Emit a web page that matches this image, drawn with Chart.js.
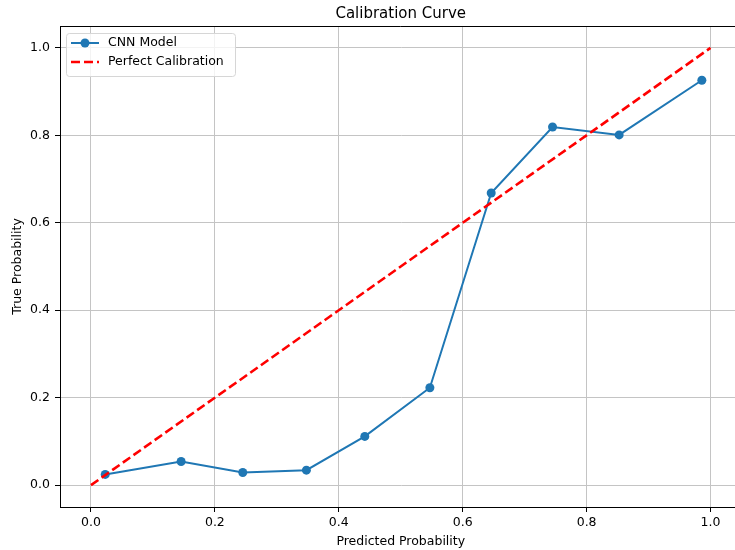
<!DOCTYPE html>
<html>
<head>
<meta charset="utf-8">
<script src="https://cdn.jsdelivr.net/npm/chart.js@4.4.0/dist/chart.umd.min.js"></script>
<style>
  html, body { margin: 0; padding: 0; background: #fff; overflow: hidden; }
  #myChart { position: absolute; left: 0; top: 0; }
</style>
</head>
<body>
<canvas id="myChart" width="746" height="550"></canvas>
<script>
// values
let predProb = [0.023, 0.1455, 0.245, 0.3477, 0.442, 0.547, 0.646, 0.745, 0.8525, 0.986];
let trueProb = [0.0245, 0.054, 0.029, 0.0343, 0.1115, 0.2228, 0.668, 0.819, 0.801, 0.926];
let perfectX = [0, 1];
let perfectY = [0, 1];
let tickValues = [0.0, 0.2, 0.4, 0.6, 0.8, 1.0];

let font = "'DejaVu Sans', sans-serif";
let blue = '#1f77b4';
let red = '#ff0000';

let cnnPoints = predProb.map((x, i) => ({ x: x, y: trueProb[i] }));
let perfectPoints = perfectX.map((x, i) => ({ x: x, y: perfectY[i] }));

function setTicks(axis) {
    axis.ticks = tickValues.map(v => ({ value: v }));
}

// title, top spine and legend box drawn on top of the chart
const extras = {
    id: 'extras',
    afterDraw(chart) {
        const ctx = chart.ctx;
        const a = chart.chartArea;
        ctx.save();
        // top spine
        ctx.strokeStyle = '#000';
        ctx.lineWidth = 1;
        ctx.beginPath();
        ctx.moveTo(a.left, a.top + 0.5);
        ctx.lineTo(a.right, a.top + 0.5);
        ctx.stroke();

        // title
        ctx.fillStyle = '#000';
        ctx.font = '15px ' + font;
        ctx.textAlign = 'center';
        ctx.textBaseline = 'alphabetic';
        ctx.fillText('Calibration Curve', (a.left + a.right) / 2, 18);

        // legend
        let lx = a.left + 6, ly = a.top + 7, lw = 169, lh = 43;
        ctx.fillStyle = 'rgba(255,255,255,0.8)';
        ctx.strokeStyle = '#d6d6d6';
        ctx.lineWidth = 1;
        ctx.beginPath();
        ctx.roundRect(lx + 0.5, ly + 0.5, lw, lh, 3);
        ctx.fill();
        ctx.stroke();

        let r1 = ly + 10, r2 = ly + 29;
        ctx.strokeStyle = blue;
        ctx.lineWidth = 2;
        ctx.beginPath();
        ctx.moveTo(lx + 5, r1);
        ctx.lineTo(lx + 33, r1);
        ctx.stroke();
        ctx.fillStyle = blue;
        ctx.beginPath();
        ctx.arc(lx + 19, r1, 4.5, 0, Math.PI * 2);
        ctx.fill();

        ctx.strokeStyle = red;
        ctx.lineWidth = 2.6;
        ctx.setLineDash([9, 4]);
        ctx.beginPath();
        ctx.moveTo(lx + 5, r2);
        ctx.lineTo(lx + 33, r2);
        ctx.stroke();
        ctx.setLineDash([]);

        ctx.fillStyle = '#000';
        ctx.font = '12.5px ' + font;
        ctx.textAlign = 'left';
        ctx.textBaseline = 'middle';
        ctx.fillText('CNN Model', lx + 42, r1);
        ctx.fillText('Perfect Calibration', lx + 42, r2);
        ctx.restore();
    }
};

let ctx = document.getElementById('myChart').getContext('2d');
new Chart(ctx, {
    type: 'scatter',
    data: {
        datasets: [{
            label: 'CNN Model',
            data: cnnPoints,
            showLine: true,
            borderColor: blue,
            backgroundColor: blue,
            borderWidth: 2,
            pointRadius: 4.5,
            pointBorderWidth: 0,
            pointHoverRadius: 4.5,
            order: 1
        },
        {
            label: 'Perfect Calibration',
            data: perfectPoints,
            showLine: true,
            borderColor: red,
            borderWidth: 2.6,
            borderDash: [9, 4],
            pointRadius: 0,
            order: 0
        }]
    },
    options: {
        responsive: false,
        animation: false,
        devicePixelRatio: 1,
        layout: { padding: { top: 26, right: 1, left: 0, bottom: 0 } },
        plugins: {
            legend: { display: false },
            tooltip: { enabled: false }
        },
        scales: {
            x: {
                type: 'linear',
                min: -0.05,
                max: 1.05,
                afterBuildTicks: setTicks,
                afterFit: (s) => { s.height = 43; },
                grid: { color: '#c4c4c4', lineWidth: 1, tickColor: '#000', tickLength: 5 },
                border: { color: '#000', width: 1 },
                ticks: {
                    color: '#000',
                    padding: 3,
                    font: { family: font, size: 12.5 },
                    maxRotation: 0,
                    callback: (v) => v.toFixed(1)
                },
                title: {
                    display: true,
                    text: 'Predicted Probability',
                    color: '#000',
                    font: { family: font, size: 12.5 },
                    padding: { top: 0, bottom: 1 }
                }
            },
            y: {
                type: 'linear',
                min: -0.05,
                max: 1.05,
                afterBuildTicks: setTicks,
                afterFit: (s) => { s.width = 60; },
                grid: { color: '#c4c4c4', lineWidth: 1, tickColor: '#000', tickLength: 5 },
                border: { color: '#000', width: 1 },
                ticks: {
                    color: '#000',
                    padding: 5,
                    font: { family: font, size: 12.5 },
                    callback: (v) => v.toFixed(1)
                },
                title: {
                    display: true,
                    text: 'True Probability',
                    color: '#000',
                    font: { family: font, size: 12.5 },
                    padding: { top: 10, bottom: 0 }
                }
            }
        }
    },
    plugins: [extras]
});
</script>
</body>
</html>
